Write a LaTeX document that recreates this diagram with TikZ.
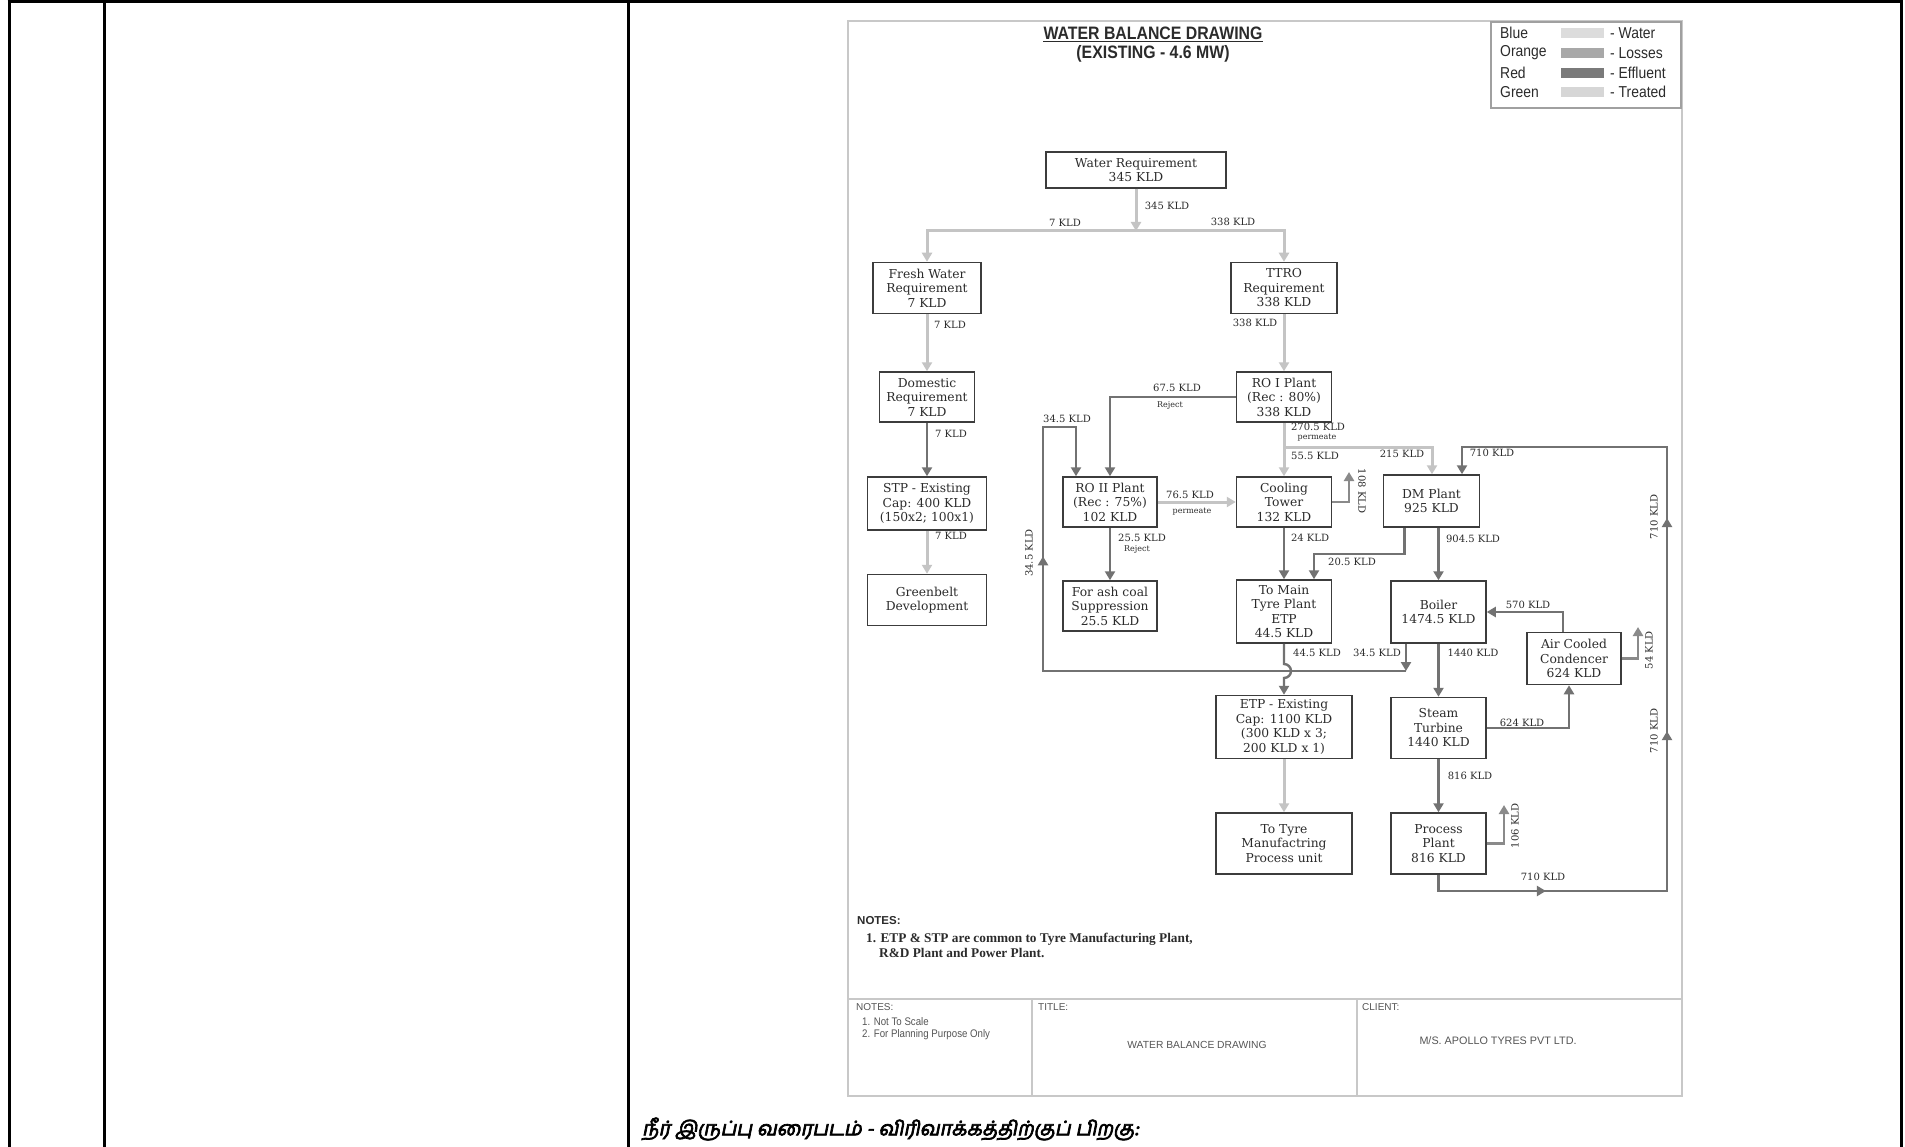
\documentclass[tikz,border=0pt]{standalone}
\usepackage{fontspec}
\setmainfont{DejaVu Serif}
\newfontfamily\sansf{Liberation Sans}
\newfontfamily\narrowf[FakeStretch=0.88]{Liberation Sans}
\newfontfamily\notef{Liberation Serif}
\newfontfamily\tamilf[Script=Tamil,FakeSlant=0.2,FakeBold=3.5]{Hind Madurai}
\usetikzlibrary{arrows.meta,calc}
\definecolor{waterc}{HTML}{C4C4C4}
\definecolor{effc}{HTML}{727272}
\definecolor{lossc}{HTML}{8A8A8A}
\definecolor{boxc}{HTML}{3C3C3C}
\definecolor{txtc}{HTML}{2B2B2B}
\definecolor{framec}{HTML}{C8C8C8}
\definecolor{legc}{HTML}{A0A0A0}
\definecolor{tbc}{HTML}{555555}
\definecolor{swA}{HTML}{DCDCDC}
\definecolor{swB}{HTML}{A8A8A8}
\definecolor{swC}{HTML}{7A7A7A}
\definecolor{swD}{HTML}{D6D6D6}
\begin{document}
\begin{tikzpicture}[x=1pt,y=-1pt,
  box/.style={draw=boxc,line width=1.5pt,fill=white,align=center,inner sep=0pt,text=txtc,font=\fontsize{12.3}{14.5}\selectfont},
  lbl/.style={font=\fontsize{10}{11}\selectfont,text=txtc,inner sep=0pt},
  sml/.style={font=\fontsize{8}{9}\selectfont,text=txtc,inner sep=0pt},
  wline/.style={color=waterc,line width=3pt},
  eline/.style={color=effc,line width=2.4pt},
  lline/.style={color=lossc,line width=2.4pt},
  arr/.style={-{Triangle[width=10pt,length=9pt]}},
  leg/.style={font=\narrowf\fontsize{15.8}{17}\selectfont,text=txtc,inner sep=0pt,anchor=west},
  tbt/.style={font=\sansf\fontsize{10}{11}\selectfont,text=tbc,inner sep=0pt,anchor=west},
]
\fill[white] (0,0) rectangle (1905,1147);
\useasboundingbox (0,0) rectangle (1905,1147);
% outer table
\draw[black,line width=3pt] (9,0) -- (9,1147) (104,0) -- (104,1147) (628,0) -- (628,1147) (1901,0) -- (1901,1147) (7.5,2) -- (1902.5,2);
% drawing frame
\draw[framec,line width=1.5pt] (848,21) rectangle (1682,1096);
\draw[framec,line width=1.5pt] (848,999) -- (1682,999) (1032,999) -- (1032,1096) (1357,999) -- (1357,1096);
% title
\node[font=\narrowf\bfseries\fontsize{18}{20}\selectfont,text=txtc,inner sep=0pt] (t1) at (1153,33) {WATER BALANCE DRAWING};
\node[font=\narrowf\bfseries\fontsize{18}{20}\selectfont,text=txtc,inner sep=0pt] (t2) at (1153,54) {(EXISTING - 4.6 MW)};
\draw[txtc,line width=1pt] ([yshift=-2pt]t1.south west) -- ([yshift=-2pt]t1.south east);
% legend
\draw[legc,line width=1.2pt] (1491,22) rectangle (1681,108);
\node[leg] (lg1) at (1500,33) {Blue};
\node[leg] (lg2) at (1500,53) {Orange};
\node[leg] (lg3) at (1500,73) {Red};
\node[leg] (lg4) at (1500,92) {Green};
\fill[swA] (1561,28) rectangle (1604,38);
\fill[swB] (1561,48) rectangle (1604,58);
\fill[swC] (1561,68) rectangle (1604,78);
\fill[swD] (1561,87) rectangle (1604,97);
\node[leg] (lg5) at (1610,33) {- Water};
\node[leg] (lg6) at (1610,53) {- Losses};
\node[leg] (lg7) at (1610,73) {- Effluent};
\node[leg] (lg8) at (1610,92) {- Treated};
% boxes
\node[box,minimum width=180,minimum height=36] (wr) at (1136,170) {Water Requirement\\345 KLD};
\node[box,minimum width=108,minimum height=51] (fw) at (927,288) {Fresh Water\\Requirement\\7 KLD};
\node[box,minimum width=106,minimum height=51] (ttro) at (1284,288) {TTRO\\Requirement\\338 KLD};
\node[box,minimum width=95,minimum height=50] (dom) at (927,397) {Domestic\\Requirement\\7 KLD};
\node[box,minimum width=95,minimum height=50] (ro1) at (1284,397) {RO I Plant\\(Rec : 80\%)\\338 KLD};
\node[box,minimum width=119,minimum height=53] (stp) at (927,503.5) {STP - Existing\\Cap: 400 KLD\\(150x2; 100x1)};
\node[box,minimum width=119,minimum height=51] (gb) at (927,600) {Greenbelt\\Development};
\node[box,minimum width=94,minimum height=50] (ro2) at (1110,502) {RO II Plant\\(Rec : 75\%)\\102 KLD};
\node[box,minimum width=94,minimum height=50] (ash) at (1110,606) {For ash coal\\Suppression\\25.5 KLD};
\node[box,minimum width=95,minimum height=50] (ct) at (1284,502) {Cooling\\Tower\\132 KLD};
\node[box,minimum width=96,minimum height=52] (dm) at (1431.5,501) {DM Plant\\925 KLD};
\node[box,minimum width=95,minimum height=63] (tm) at (1284,611.5) {To Main\\Tyre Plant\\ETP\\44.5 KLD};
\node[box,minimum width=95,minimum height=62] (boiler) at (1438.5,612) {Boiler\\1474.5 KLD};
\node[box,minimum width=94,minimum height=52] (acc) at (1574,658.5) {Air Cooled\\Condencer\\624 KLD};
\node[box,minimum width=136,minimum height=63] (etp) at (1284,727) {ETP - Existing\\Cap: 1100 KLD\\(300 KLD x 3;\\200 KLD x 1)};
\node[box,minimum width=95,minimum height=61] (st) at (1438.5,728) {Steam\\Turbine\\1440 KLD};
\node[box,minimum width=136,minimum height=61] (ttm) at (1284,843.5) {To Tyre\\Manufactring\\Process unit};
\node[box,minimum width=95,minimum height=61] (pp) at (1438.5,843.5) {Process\\Plant\\816 KLD};
% coordinates
\coordinate (j1) at (1136,231);
\coordinate (lb) at (1043,671);
\coordinate (lt) at (1043,427);
\coordinate (r1) at (1667,447);
\coordinate (r2) at (1667,891);
\coordinate (ctL) at (1349,472);
\coordinate (accL) at (1638,627);
\coordinate (ppL) at (1504,805);
\coordinate (bxo) at ([xshift=-32.5]boiler.south);
\coordinate (ro2e) at ([xshift=-34]ro2.north);
\coordinate (dmx) at ([xshift=-27]dm.south);
\coordinate (tmx) at ([xshift=30]tm.north);
\coordinate (accT) at ([xshift=-11]acc.north);
\coordinate (accB) at ([xshift=-5]acc.south);
\coordinate (dmE) at ([xshift=30.5]dm.north);
\coordinate (dmW) at ([xshift=0.5]dm.north);
\coordinate (jb) at (ro1.south |- r1);
\coordinate (ppB) at (pp.south |- r2);
\coordinate (hopc) at (tm.south |- lb);
% water lines
\draw[wline,arr] (wr.south) -- (j1);
\draw[wline,arr] (j1) -| (fw.north);
\draw[wline,arr] (j1) -| (ttro.north);
\draw[wline,arr] (fw.south) -- (dom.north);
\draw[wline,arr] (ttro.south) -- (ro1.north);
\draw[wline,arr] (stp.south) -- (gb.north);
\draw[wline,arr] (ro1.south) -- (ct.north);
\draw[wline,arr] (jb) -| (dmW);
\draw[wline,arr] (ro2.east) -- (ct.west);
\draw[wline,arr] (etp.south) -- (ttm.north);
% effluent / process lines
\draw[eline,arr] (dom.south) -- (stp.north);
\draw[eline,arr] (ro1.west) -| (ro2.north);
\draw[eline,arr] (ro2.south) -- (ash.north);
\draw[eline,arr] (ct.south) -- (tm.north);
\draw[eline,arr] (dmx) -- ++(0,26) -| (tmx);
\draw[eline,arr] (boiler.north |- dm.south) -- (boiler.north);
\draw[eline,arr] (accT) |- (boiler.east);
\draw[eline,arr] (boiler.south) -- (st.north);
\draw[eline,arr] (st.east) -| (accB);
\draw[eline,arr] (st.south) -- (pp.north);
\draw[eline,arr] (bxo) -- (bxo |- lb);
\draw[eline,arr] (bxo |- lb) -- (lb) -- (lt) -| (ro2e);
\draw[eline,arr] (lb) -- ($(lb)!0.47!(lt)$);
\draw[eline,arr] (tm.south) -- ($(hopc)+(0,-7)$) arc[start angle=-90,end angle=90,radius=7] -- (etp.north);
\draw[eline,arr] (pp.south) -- (ppB) -- (r2) -- (r1) -| (dmE);
\draw[eline,arr] (ppB) -- ($(ppB)!0.47!(r2)$);
\draw[eline,arr] (r2) -- ($(r2)!0.36!(r1)$);
\draw[eline,arr] (r2) -- ($(r2)!0.84!(r1)$);
% losses
\draw[lline,arr] (ct.east) -| (ctL);
\draw[lline,arr] (acc.east) -| (accL);
\draw[lline,arr] (pp.east) -| (ppL);
% labels
\node[lbl] (l345) at (1167,206) {345 KLD};
\node[lbl] (l7a) at (1065,223) {7 KLD};
\node[lbl] (l338a) at (1233,222) {338 KLD};
\node[lbl] (l7b) at (950,325) {7 KLD};
\node[lbl] (l338b) at (1255,323) {338 KLD};
\node[lbl] (l7c) at (951,434) {7 KLD};
\node[lbl] (l7d) at (951,536) {7 KLD};
\node[lbl] (l675) at (1177,388) {67.5 KLD};
\node[sml] (lrej1) at (1170,405) {Reject};
\node[lbl] (l345b) at (1067,419) {34.5 KLD};
\node[lbl] (l2705) at (1318,427) {270.5 KLD};
\node[sml] (lperm1) at (1317,438) {permeate};
\node[lbl] (l555) at (1315,456) {55.5 KLD};
\node[lbl] (l215) at (1402,454) {215 KLD};
\node[lbl] (l710a) at (1492,453) {710 KLD};
\node[lbl] (l765) at (1190,495) {76.5 KLD};
\node[sml] (lperm2) at (1192,512) {permeate};
\node[lbl,rotate=-90] (l108) at (1362,491) {108 KLD};
\node[lbl] (l255) at (1142,538) {25.5 KLD};
\node[sml] (lrej2) at (1137,549) {Reject};
\node[lbl] (l24) at (1310,538) {24 KLD};
\node[lbl] (l9045) at (1473,539) {904.5 KLD};
\node[lbl] (l205) at (1352,562) {20.5 KLD};
\node[lbl,rotate=90] (l345c) at (1029,553) {34.5 KLD};
\node[lbl,rotate=90] (l710b) at (1654,517) {710 KLD};
\node[lbl] (l570) at (1528,605) {570 KLD};
\node[lbl,rotate=90] (l54) at (1649,650) {54 KLD};
\node[lbl] (l445) at (1317,653) {44.5 KLD};
\node[lbl] (l345d) at (1377,653) {34.5 KLD};
\node[lbl] (l1440) at (1473,653) {1440 KLD};
\node[lbl] (l624) at (1522,723) {624 KLD};
\node[lbl,rotate=90] (l710c) at (1654,731) {710 KLD};
\node[lbl] (l816) at (1470,776) {816 KLD};
\node[lbl,rotate=90] (l106) at (1515,826) {106 KLD};
\node[lbl] (l710d) at (1543,877) {710 KLD};
% notes
\node[font=\sansf\bfseries\fontsize{11.5}{13}\selectfont,text=txtc,inner sep=0pt,anchor=west] (nh) at (857,921) {NOTES:};
\node[font=\notef\bfseries\fontsize{13.3}{14}\selectfont,text=txtc,inner sep=0pt,anchor=west] (n1) at (866,939) {1. ETP \& STP are common to Tyre Manufacturing Plant,};
\node[font=\notef\bfseries\fontsize{13.3}{14}\selectfont,text=txtc,inner sep=0pt,anchor=west] (n2) at (879,953) {R\&D Plant and Power Plant.};
% title block
\node[tbt] (tbn) at (856,1007) {NOTES:};
\node[tbt,font=\narrowf\fontsize{11}{12}\selectfont] (tb1) at (862,1022) {1. Not To Scale};
\node[tbt,font=\narrowf\fontsize{11}{12}\selectfont] (tb2) at (862,1035) {2. For Planning Purpose Only};
\node[tbt] (tbt1) at (1038,1007) {TITLE:};
\node[tbt,anchor=center,font=\sansf\fontsize{10.3}{11}\selectfont] (tbt2) at (1197,1045) {WATER BALANCE DRAWING};
\node[tbt] (tbc1) at (1362,1007) {CLIENT:};
\node[tbt,anchor=center,font=\sansf\fontsize{10.8}{11}\selectfont] (tbc2) at (1498,1041) {M/S. APOLLO TYRES PVT LTD.};
% tamil caption
\node[anchor=west,inner sep=0pt,text=black,font=\tamilf\fontsize{20}{22}\selectfont] (tam) at (642,1129) {நீர் இருப்பு வரைபடம் - விரிவாக்கத்திற்குப் பிறகு:};
\end{tikzpicture}
\end{document}
